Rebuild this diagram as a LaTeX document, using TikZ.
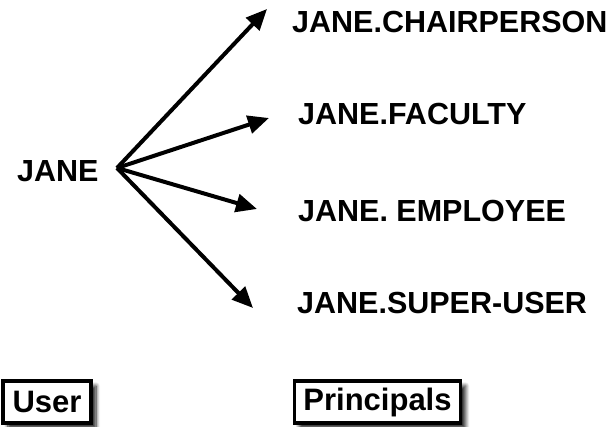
\documentclass[tikz,border=0pt]{standalone}
\usepackage{fontspec}
\setmainfont{Liberation Sans}
\usetikzlibrary{arrows.meta,shadows.blur}
\begin{document}
\begin{tikzpicture}[x=1pt,y=-1pt,
  lbl/.style={font=\fontsize{30.5}{32}\selectfont\bfseries, inner sep=0pt, anchor=base west},
  arr/.style={line width=4pt, -{Triangle[length=21pt,width=18pt]}},
  tag/.style={draw, line width=3.5pt, fill=white, inner sep=0pt, minimum height=42pt,
    font=\fontsize{31}{32}\selectfont\bfseries,
    blur shadow={shadow xshift=5pt, shadow yshift=-5pt, shadow blur steps=8, shadow blur radius=4pt, shadow opacity=90}}]
\useasboundingbox (0,0) rectangle (611,427);
\node[lbl] (jane) at (17,182) {JANE};
\coordinate (o) at (117,168);
\coordinate (t1) at (267,9);
\coordinate (t2) at (269,118);
\coordinate (t3) at (257,209);
\coordinate (t4) at (253,308);
\node[lbl] (p1) at (292,33) {JANE.CHAIRPERSON};
\node[lbl] (p2) at (298,125) {JANE.FACULTY};
\node[lbl] (p3) at (298,222) {JANE. EMPLOYEE};
\node[lbl] (p4) at (297,314) {JANE.SUPER-USER};
\draw[arr] (o) -- (t1);
\draw[arr] (o) -- (t2);
\draw[arr] (o) -- (t3);
\draw[arr] (o) -- (t4);
\node[tag, minimum width=88pt] (user) at (47,402) {User};
\node[tag, minimum width=166pt] (princ) at (377.5,402) {Principals};
\end{tikzpicture}
\end{document}
